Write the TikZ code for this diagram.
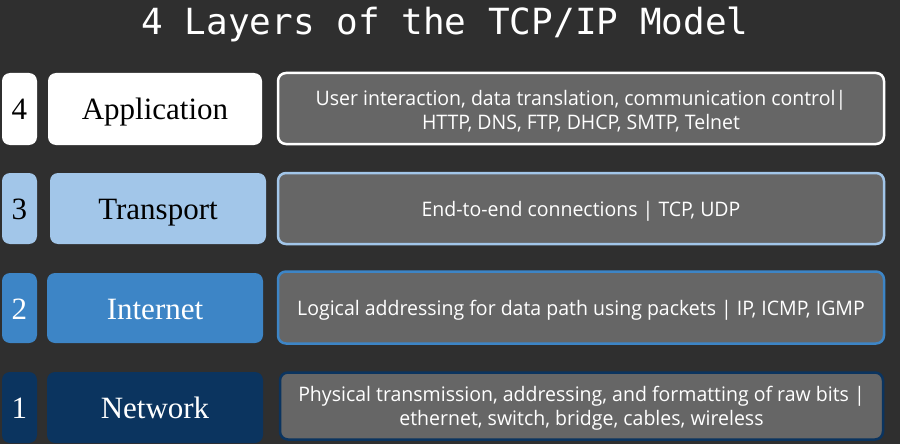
\documentclass[tikz,border=0pt]{standalone}
\usepackage{fontspec}
\setmainfont{Liberation Serif}
\newfontfamily\titlefont{DejaVu Sans Mono}
\newfontfamily\descfont[FakeStretch=0.975]{Open Sans}
\definecolor{bgc}{HTML}{2F2F2F}
\definecolor{descfill}{HTML}{666666}
\definecolor{appc}{HTML}{FFFFFF}
\definecolor{trac}{HTML}{A2C6E9}
\definecolor{intc}{HTML}{3D85C6}
\definecolor{netc}{HTML}{0B345F}
\begin{document}
\begin{tikzpicture}[x=1pt,y=-1pt,
  box/.style={rounded corners=8pt,inner sep=0pt,outer sep=0pt,align=center},
  numbox/.style={box,minimum width=35pt,font=\fontsize{31}{33}\selectfont,text height=22pt,text depth=0pt},
  labbox/.style={box,font=\fontsize{31}{33}\selectfont,text height=22pt,text depth=0pt},
  descbox/.style={box,fill=descfill,line width=2.5pt,text=white,font=\descfont\fontsize{20}{24}\selectfont,minimum width=606pt},
  oneline/.style={text height=15pt,text depth=0pt}
]
\fill[bgc] (0,0) rectangle (900,444);
\useasboundingbox (0,0) rectangle (900,444);
\node[text=white,font=\titlefont\fontsize{36}{40}\selectfont] (title) at (445,24) {4 Layers of the TCP/IP Model};
% row 4
\node[numbox,fill=appc,text=black,minimum height=72pt] (n4) at (19.5,109) {4};
\node[labbox,fill=appc,text=black,minimum width=214pt,minimum height=72pt] (l4) at (155,109) {Application};
\node[descbox,draw=appc,minimum height=71pt,text height=42pt,text depth=0pt] (d4) at (581,108.5) {User interaction, data translation, communication control|\\HTTP, DNS, FTP, DHCP, SMTP, Telnet};
% row 3
\node[numbox,fill=trac,text=black,minimum height=71pt] (n3) at (19.5,208.5) {3};
\node[labbox,fill=trac,text=black,minimum width=216pt,minimum height=71pt] (l3) at (158,208.5) {Transport};
\node[descbox,draw=trac,minimum height=71pt,oneline] (d3) at (581,208.5) {End-to-end connections | TCP, UDP};
% row 2
\node[numbox,fill=intc,text=white,minimum height=70pt] (n2) at (19.5,308) {2};
\node[labbox,fill=intc,text=white,minimum width=216pt,minimum height=70pt] (l2) at (155,308) {Internet};
\node[descbox,draw=intc,minimum height=72pt,oneline] (d2) at (581,307.5) {Logical addressing for data path using packets | IP, ICMP, IGMP};
% row 1
\node[numbox,fill=netc,text=white,minimum height=71pt] (n1) at (19.5,407.5) {1};
\node[labbox,fill=netc,text=white,minimum width=216pt,minimum height=71pt] (l1) at (155,407.5) {Network};
\node[descbox,draw=netc,minimum height=67pt,minimum width=603pt,text height=38pt,text depth=0pt] (d1) at (581.5,406) {Physical transmission, addressing, and formatting of raw bits |\\ethernet, switch, bridge, cables, wireless};
\end{tikzpicture}
\end{document}
